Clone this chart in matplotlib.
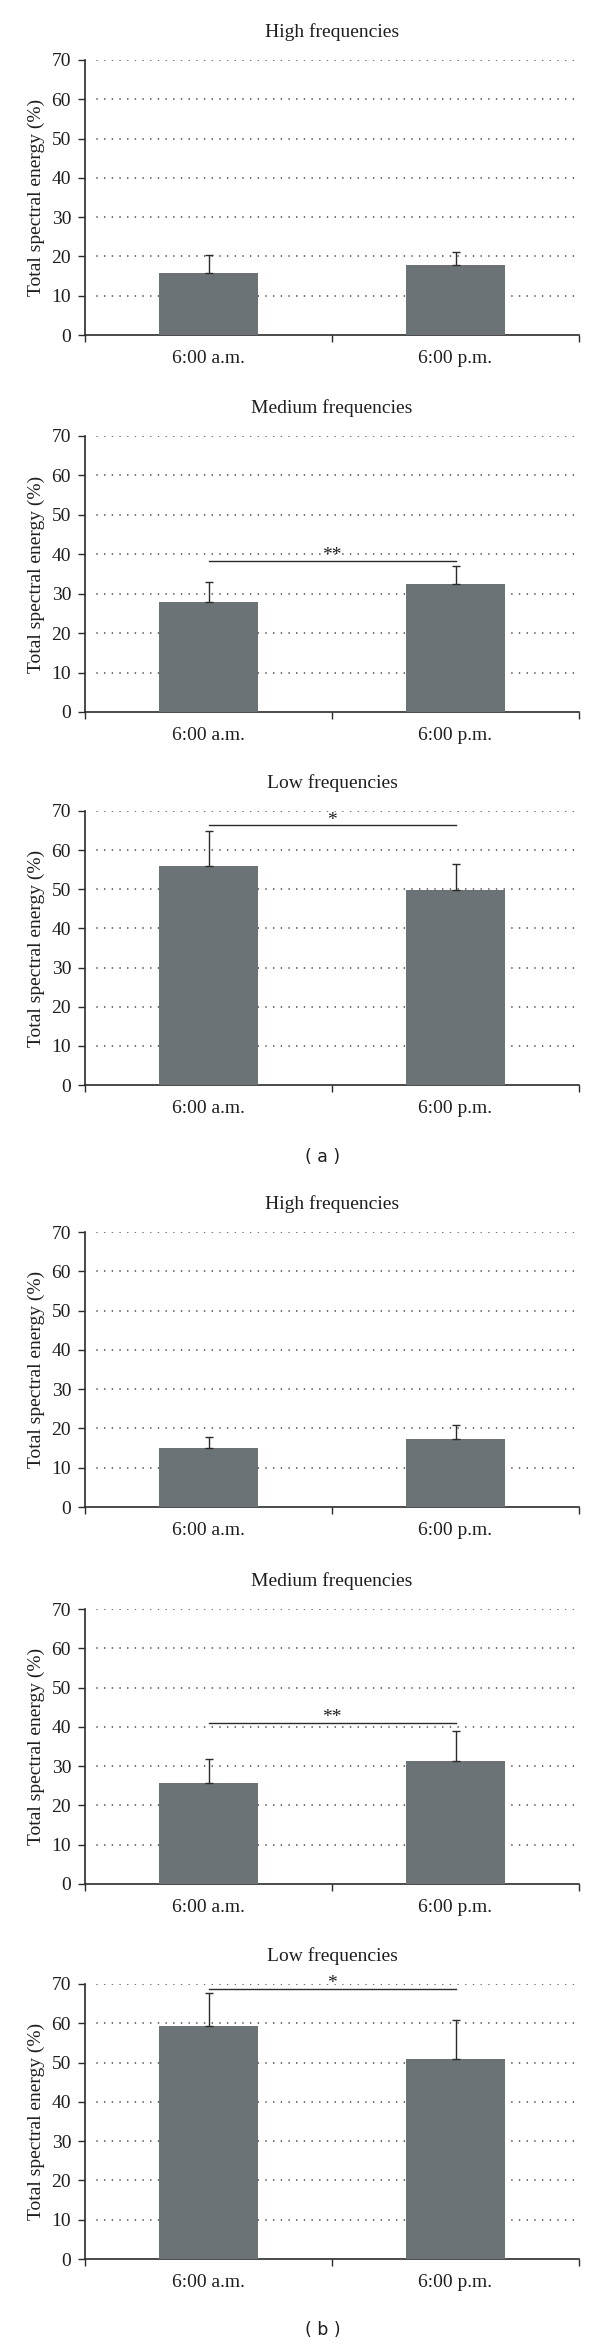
import matplotlib.pyplot as plt

# Data
CATEGORIES = ["6:00 a.m.", "6:00 p.m."]
TITLES = ["High frequencies", "Medium frequencies", "Low frequencies"]

high_a = [15.9, 17.8]
high_a_err = [4.5, 3.4]
med_a = [27.8, 32.5]
med_a_err = [5.2, 4.6]
low_a = [55.9, 49.8]
low_a_err = [9.1, 6.7]

high_b = [15.0, 17.3]
high_b_err = [2.8, 3.6]
med_b = [25.7, 31.4]
med_b_err = [6.2, 7.6]
low_b = [59.4, 51.0]
low_b_err = [8.3, 9.9]

# significance bars: (height, label), None when absent
sig_a = [None, (38.3, "**"), (66.3, "*")]
sig_b = [None, (41.1, "**"), (68.8, "*")]

# Style
BAR_COLOR = "#6c7376"
DARK = "#2b2b2b"
TEXT = "#1e1e1e"
W, H = 600, 2346
SERIF = ["Liberation Serif", "DejaVu Serif"]
FS = 14

# axes top/bottom in pixels for the six panels
AX_TOPS = [60, 436, 811, 1232, 1609, 1984]
AX_BOTTOMS = [335, 712, 1085, 1507, 1884, 2259]
AX_LEFT, AX_RIGHT = 85, 579
GRID_START = 0.025  # dotted lines start a little right of the y axis


def draw_panel(fig, top, bottom, title, vals, errs, sig):
    ax = fig.add_axes([AX_LEFT / W, 1 - bottom / H,
                       (AX_RIGHT - AX_LEFT) / W, (bottom - top) / H])
    x = [0.5, 1.5]
    ax.bar(x, vals, width=0.4, color=BAR_COLOR, zorder=3)
    ax.errorbar(x, vals, yerr=[[0, 0], errs], fmt="none", ecolor=DARK,
                elinewidth=1.0, capsize=3, capthick=1.0, zorder=4)
    ax.set_xlim(0, 2)
    ax.set_ylim(0, 70)
    yticks = list(range(0, 71, 10))
    ax.set_yticks(yticks)
    ax.set_xticks([0, 1, 2])
    ax.set_xticks(x, minor=True)
    ax.set_xticklabels([])
    ax.set_xticklabels(CATEGORIES, minor=True, family=SERIF, fontsize=FS,
                       color=TEXT)
    ax.tick_params(axis="x", which="minor", length=0, pad=11)
    ax.tick_params(axis="x", which="major", length=5, width=1.0, color=DARK)
    ax.tick_params(axis="y", length=5, width=1.0, color=DARK, pad=5,
                   labelsize=FS, labelcolor=TEXT)
    for lab in ax.get_yticklabels():
        lab.set_family(SERIF)
    for s in ["top", "right"]:
        ax.spines[s].set_visible(False)
    for s in ["left", "bottom"]:
        ax.spines[s].set_color(DARK)
        ax.spines[s].set_linewidth(1.2)

    # dotted horizontal grid
    for t in yticks[1:]:
        ax.plot([GRID_START, 1], [t, t], transform=ax.get_yaxis_transform(),
                linestyle=(0, (0.01, 4.6)), color="#3c3c3c", linewidth=1.2,
                dash_capstyle="round", zorder=1)

    ax.set_ylabel("Total spectral energy (%)", family=SERIF, fontsize=FS,
                  color=TEXT, labelpad=5)
    ax.set_title(title, family=SERIF, fontsize=FS, color=TEXT, pad=16.5)
    if sig is not None:
        y, label = sig
        ax.plot(x, [y, y], color=DARK, linewidth=1.0, zorder=5,
                clip_on=False)
        ax.annotate(label, xy=(1.0, y), xytext=(0, 0.5),
                    textcoords="offset points", ha="center", va="baseline",
                    family=SERIF, fontsize=FS, color=TEXT,
                    annotation_clip=False)
    return ax


def main():
    fig = plt.figure(figsize=(W / 100, H / 100), dpi=100)

    panels = [
        (TITLES[0], high_a, high_a_err, sig_a[0]),
        (TITLES[1], med_a, med_a_err, sig_a[1]),
        (TITLES[2], low_a, low_a_err, sig_a[2]),
        (TITLES[0], high_b, high_b_err, sig_b[0]),
        (TITLES[1], med_b, med_b_err, sig_b[1]),
        (TITLES[2], low_b, low_b_err, sig_b[2]),
    ]
    for (title, vals, errs, sig), top, bottom in zip(panels, AX_TOPS, AX_BOTTOMS):
        draw_panel(fig, top, bottom, title, vals, errs, sig)

    fig.text(323 / W, 1 - 1157 / H, "( a )", ha="center", va="center",
             family=["DejaVu Sans"], fontsize=12.5, color=TEXT)
    fig.text(323 / W, 1 - 2330 / H, "( b )", ha="center", va="center",
             family=["DejaVu Sans"], fontsize=12.5, color=TEXT)

    fig.savefig("out.png", dpi=100)


if __name__ == "__main__":
    main()
